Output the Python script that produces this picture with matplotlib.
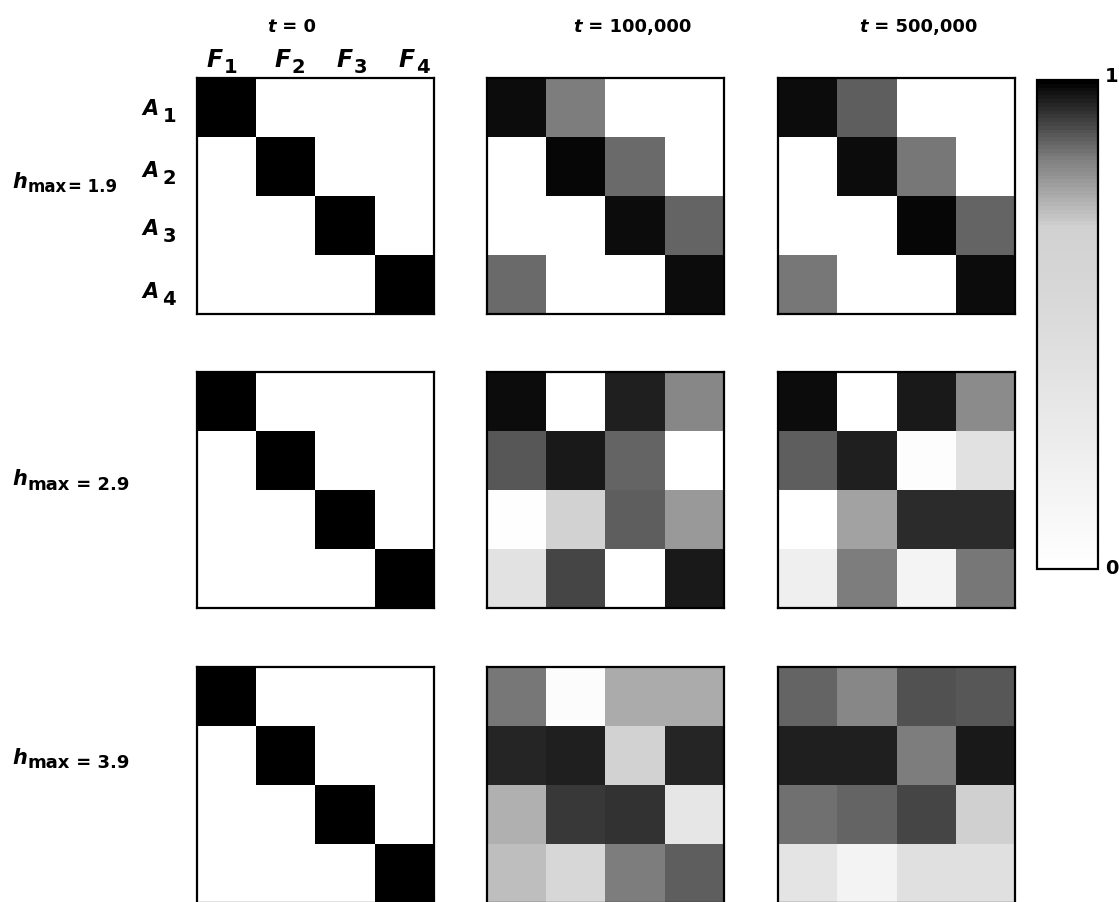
import numpy as np
import matplotlib
matplotlib.use("Agg")
import matplotlib.pyplot as plt
from matplotlib.colors import LinearSegmentedColormap

plt.rcParams['font.family'] = ['DejaVu Sans']
plt.rcParams['font.weight'] = 'bold'

# ---------------- data ----------------
times = ["0", "100,000", "500,000"]
hmax = ["1.9", "2.9", "3.9"]
f_labels = ["1", "2", "3", "4"]
a_labels = ["1", "2", "3", "4"]

t0 = np.eye(4)

h19_t1 = [[0.984, 0.839, 0.0, 0.0],
          [0.0, 0.992, 0.864, 0.0],
          [0.0, 0.0, 0.984, 0.869],
          [0.864, 0.0, 0.0, 0.984]]
h19_t5 = [[0.984, 0.880, 0.0, 0.0],
          [0.0, 0.984, 0.847, 0.0],
          [0.0, 0.0, 0.991, 0.872],
          [0.851, 0.0, 0.0, 0.984]]
h29_t1 = [[0.984, 0.0, 0.960, 0.827],
          [0.890, 0.966, 0.871, 0.0],
          [0.014, 0.665, 0.877, 0.795],
          [0.393, 0.910, 0.0, 0.966]]
h29_t5 = [[0.982, 0.0, 0.966, 0.819],
          [0.880, 0.957, 0.029, 0.421],
          [0.0, 0.777, 0.944, 0.944],
          [0.225, 0.839, 0.154, 0.847]]
h39_t1 = [[0.846, 0.043, 0.765, 0.765],
          [0.946, 0.957, 0.665, 0.951],
          [0.752, 0.928, 0.936, 0.336],
          [0.733, 0.565, 0.839, 0.877]]
h39_t5 = [[0.871, 0.826, 0.897, 0.887],
          [0.957, 0.957, 0.839, 0.966],
          [0.854, 0.872, 0.907, 0.700],
          [0.379, 0.168, 0.436, 0.436]]

grid = [[t0, h19_t1, h19_t5],
        [t0, h29_t1, h29_t5],
        [t0, h39_t1, h39_t5]]

# nonlinear grey scale, as on the colour bar
cmap = LinearSegmentedColormap.from_list(
    "grey_steep",
    [(0.0, (1, 1, 1)), (0.5, (0.86,) * 3), (0.70, (0.82,) * 3),
     (0.84, (0.50,) * 3), (1.0, (0, 0, 0))], N=128)

# ---------------- layout (pixels) ----------------
W, H = 1119, 903
fig = plt.figure(figsize=(W / 100, H / 100), dpi=100)
renderer = fig.canvas.get_renderer()

def box(x, y, w, h):
    return [x / W, 1 - (y + h) / H, w / W, h / H]

def chain(x, y, parts, align='left'):
    # parts: (text, size, italic, gap_before_px, dy_px) ; y is baseline in px
    txts, widths = [], []
    for s, size, it, gap, dy in parts:
        t = fig.text(0, 0, s, fontsize=size, fontweight='bold',
                     fontstyle='italic' if it else 'normal', va='baseline')
        txts.append(t)
        widths.append(t.get_window_extent(renderer).width)
    total = sum(widths) + sum(p[3] for p in parts)
    if align == 'right':
        cx = x - total
    elif align == 'center':
        cx = x - total / 2
    else:
        cx = x
    for t, w, p in zip(txts, widths, parts):
        cx += p[3]
        t.set_position((cx / W, 1 - (y + p[4]) / H))
        cx += w

col_x = [197, 487, 778]
row_y = [79, 373, 668]
pw, ph = 237, 236

for r in range(3):
    for c in range(3):
        ax = fig.add_axes(box(col_x[c], row_y[r], pw, ph))
        im = ax.imshow(np.array(grid[r][c]), cmap=cmap, vmin=0, vmax=1,
                       interpolation='nearest', aspect='auto')
        ax.set_xticks([])
        ax.set_yticks([])
        for s in ax.spines.values():
            s.set_linewidth(1.6)
            s.set_color('black')

# column titles
t_x = [292, 632, 918]
for c in range(3):
    chain(t_x[c], 32, [("t", 13, True, 0, 0), (" = " + times[c], 13, False, 0, 0)],
          align='center')

# F labels
f_x = [222, 290, 352, 414]
for i in range(4):
    chain(f_x[i], 67, [("F", 17, True, 0, 0), (f_labels[i], 14, False, 1, 6)],
          align='center')

# A labels
a_base = [115, 177, 235, 298]
for i in range(4):
    chain(176, a_base[i], [("A", 15, True, 0, 0), (a_labels[i], 14, False, 4, 7)],
          align='right')

# row labels
chain(12, 188, [("h", 15, True, 0, 0), ("max", 12, False, 1, 4),
                ("= " + hmax[0], 12, False, 1, 4)])
chain(12, 485, [("h", 15, True, 0, 0), ("max", 13, False, 1, 5),
                (" = " + hmax[1], 13, False, 0, 5)])
chain(12, 764, [("h", 15, True, 0, 0), ("max", 13, False, 1, 4),
                (" = " + hmax[2], 13, False, 0, 4)])

# colour bar
cax = fig.add_axes(box(1037, 81, 61, 489))
cb = fig.colorbar(im, cax=cax, ticks=[])
cb.outline.set_linewidth(1.6)
fig.text(1105 / W, 1 - 76 / H, "1", ha='left', va='center', fontsize=14)
fig.text(1105 / W, 1 - 569 / H, "0", ha='left', va='center', fontsize=14)

fig.savefig("out.png", dpi=100)
